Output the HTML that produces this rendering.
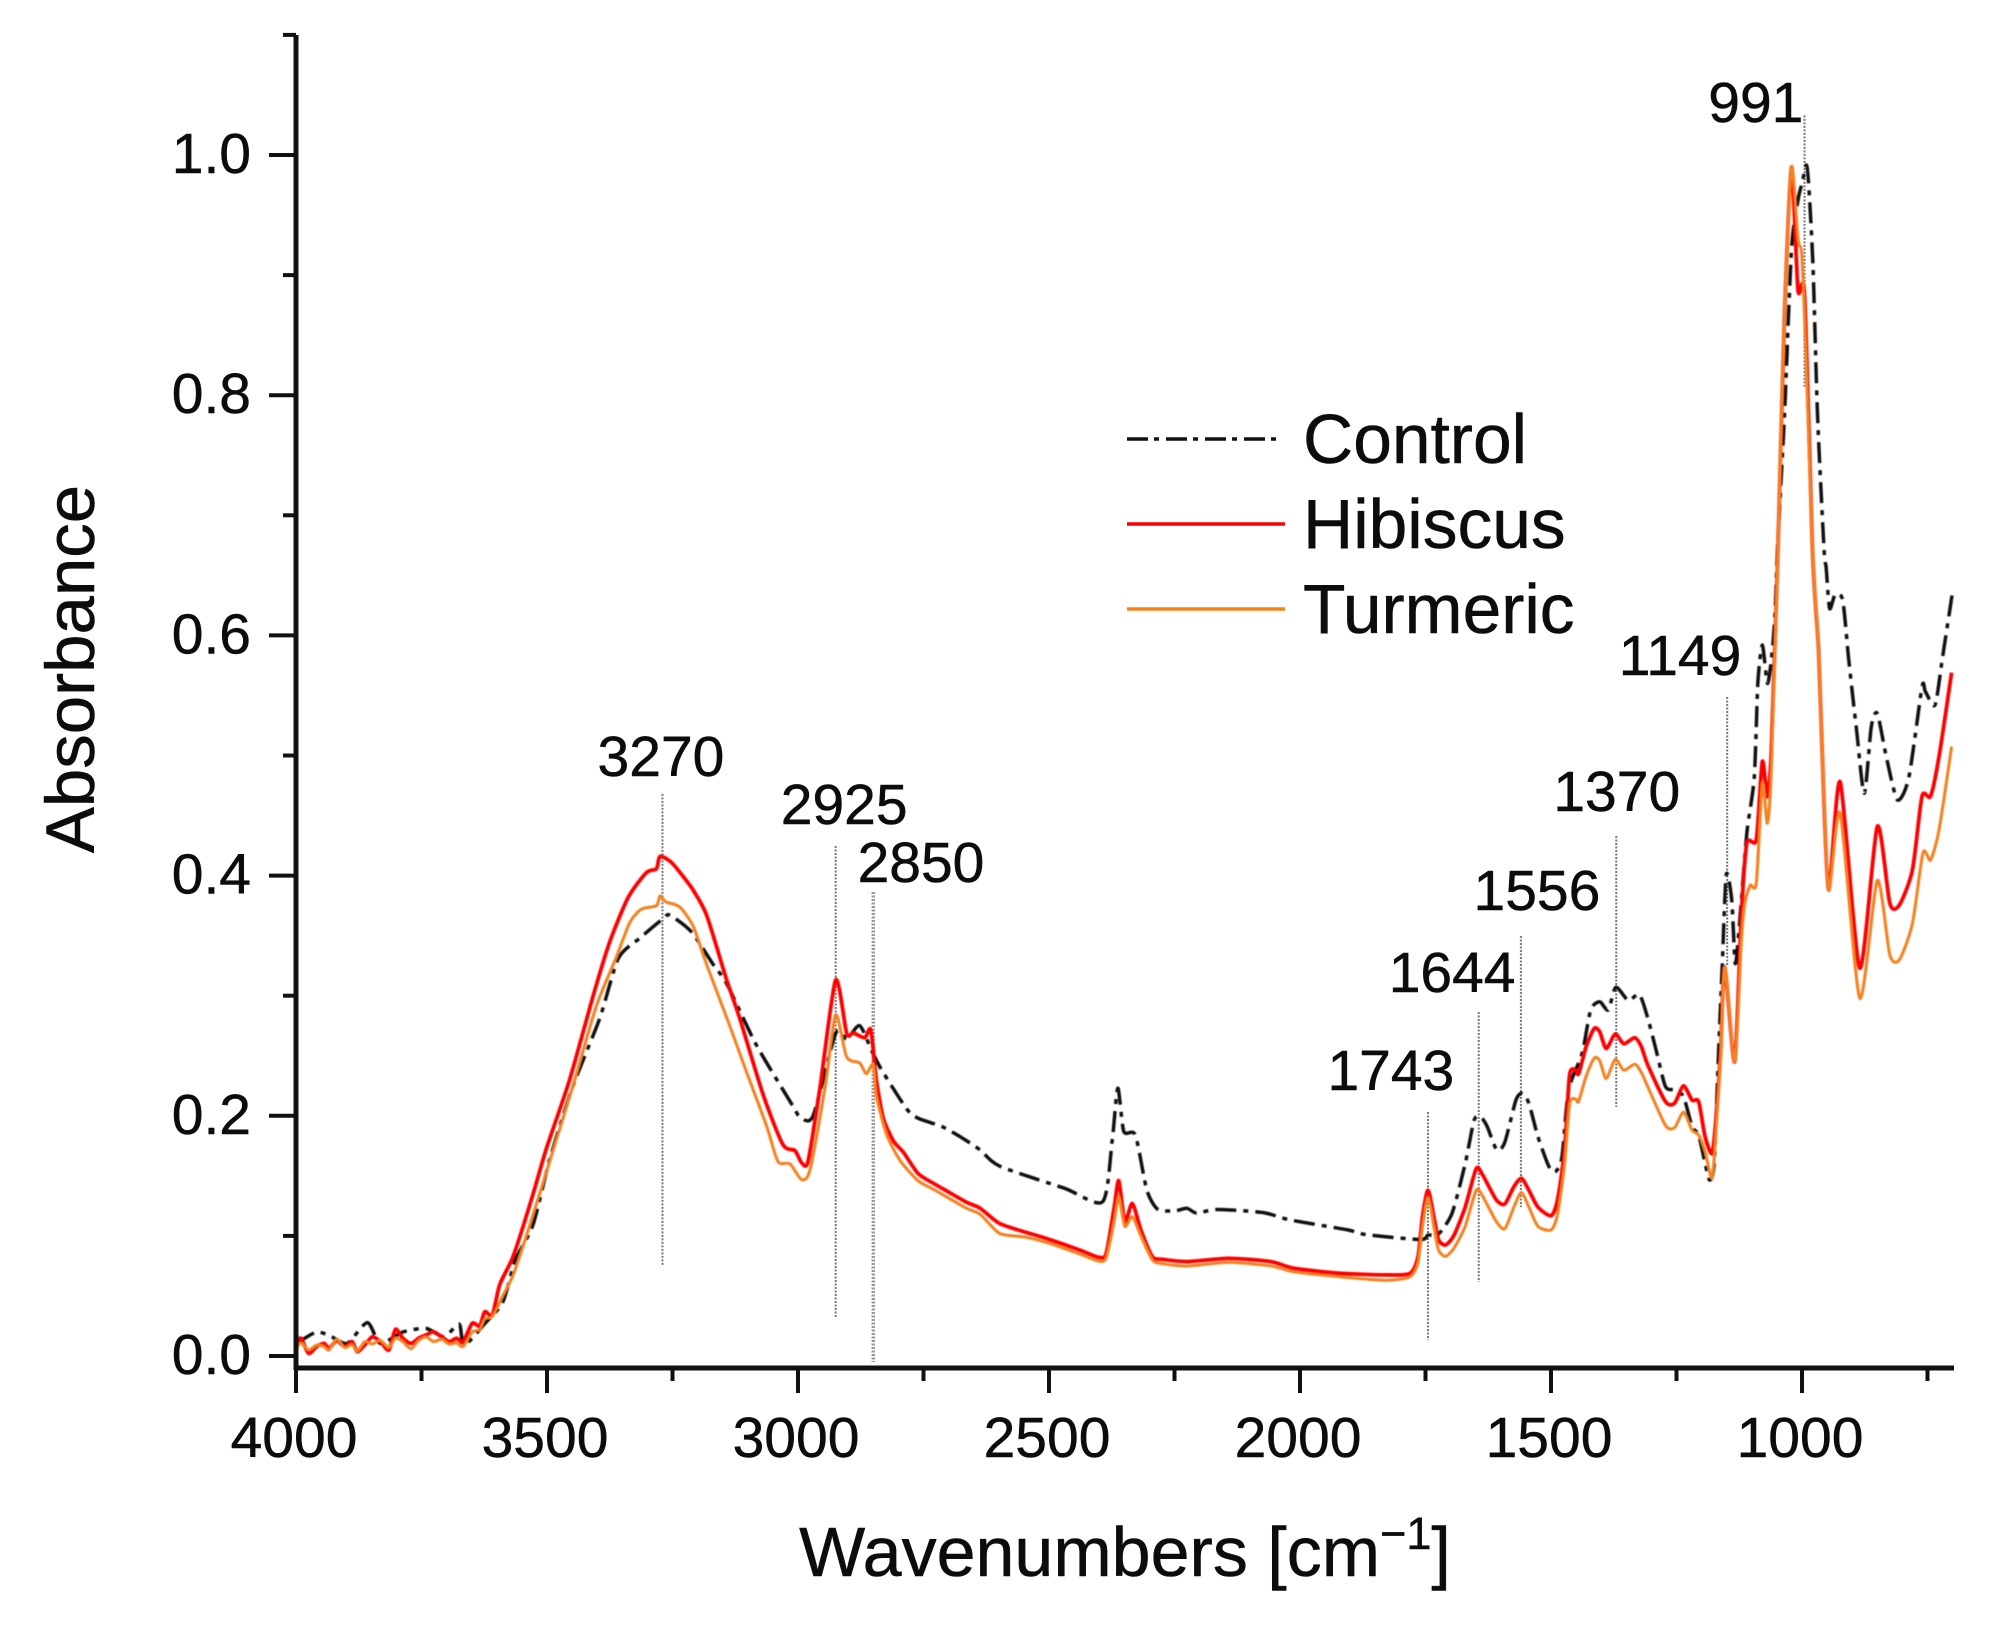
<!DOCTYPE html>
<html lang="en">
<head>
<meta charset="utf-8">
<title>FTIR absorbance spectra</title>
<style>
html,body{margin:0;padding:0;background:#fff;}
svg{display:block;}
text{font-family:"Liberation Sans",Arial,sans-serif;fill:#0c0c0c;stroke:#0c0c0c;stroke-width:0.5px;}
</style>
</head>
<body>
<svg id="chart" xmlns="http://www.w3.org/2000/svg" width="1991" height="1629" viewBox="0 0 1991 1629">
  <rect x="0" y="0" width="1991" height="1629" fill="#fff"/>
  <g id="peak-lines"></g>
  <g id="series" style="filter:blur(0.4px)"></g>
  <g id="axes"></g>
  <g id="peak-labels"></g>
  <text transform="translate(94 669) rotate(-90)" text-anchor="middle" font-size="69">Absorbance</text>
  <text x="1125" y="1576" text-anchor="middle" font-size="70">Wavenumbers [cm<tspan font-size="45" dy="-27">−1</tspan><tspan dy="27">]</tspan></text>
  <g>
    <line x1="1127" y1="439" x2="1283" y2="439" stroke="#111" stroke-width="3.5" stroke-dasharray="21 6 5 7"/>
    <text x="1303" y="463" font-size="69.5">Control</text>
    <line x1="1127" y1="524" x2="1285" y2="524" stroke="#ff0000" stroke-width="3.6"/>
    <text x="1303" y="548" font-size="69.5">Hibiscus</text>
    <line x1="1127" y1="609" x2="1285" y2="609" stroke="#f58220" stroke-width="3.4"/>
    <text x="1303" y="633" font-size="69.5">Turmeric</text>
  </g>
</svg>
<script>
const xMajorTicks = [4000,3500,3000,2500,2000,1500,1000];
const xMinorTicks = [3750,3250,2750,2250,1750,1250,750];
const yMajorTicks = [0,0.2,0.4,0.6,0.8,1.0];
const yMinorTicks = [0.1,0.3,0.5,0.7,0.9,1.1];

const controlWavenumbers = [4000,3959,3929,3898,3858,3832,3787,3741,3705,3675,3665,3624,3588,3563,3528,3495,3449,3395,3358,3315,3269,3255,3212,3169,3142,3083,3010,2996,2970,2925,2903,2877,2853,2833,2784,2761,2713,2671,2637,2598,2469,2393,2374,2363,2351,2328,2305,2283,2248,2225,2206,2165,2073,2020,1905,1867,1760,1745,1724,1697,1671,1653,1640,1627,1608,1592,1570,1557,1544,1526,1504,1491,1478,1465,1438,1421,1403,1386,1371,1346,1324,1307,1289,1272,1254,1236,1219,1206,1193,1184,1175,1166,1159,1151,1140,1133,1125,1110,1095,1088,1079,1069,1061,1054,1048,1035,1021,1008,1000,991,986,978,969,956,952,945,934,919,907,892,876,862,850,832,810,787,761,754,735,720,701];
const controlAbsorbance = [0.010,0.020,0.016,0.0105,0.0278,0.0105,0.020,0.023,0.016,0.0266,0.009,0.027,0.045,0.080,0.109,0.163,0.224,0.281,0.331,0.348,0.364,0.367,0.353,0.326,0.310,0.259,0.208,0.199,0.200,0.2685,0.264,0.275,0.254,0.238,0.206,0.198,0.191,0.181,0.1715,0.158,0.1396,0.1285,0.180,0.223,0.187,0.184,0.138,0.122,0.121,0.123,0.119,0.122,0.1194,0.1133,0.105,0.101,0.097,0.1007,0.1016,0.119,0.160,0.1965,0.199,0.191,0.1715,0.178,0.213,0.2187,0.2104,0.1826,0.1576,0.1535,0.166,0.2214,0.252,0.288,0.295,0.288,0.307,0.296,0.301,0.281,0.252,0.2243,0.2214,0.216,0.191,0.184,0.1604,0.1465,0.1604,0.2548,0.324,0.4005,0.380,0.327,0.357,0.435,0.482,0.560,0.592,0.560,0.580,0.6156,0.680,0.782,0.921,0.9625,0.9764,0.9917,0.971,0.907,0.782,0.671,0.657,0.6225,0.634,0.6295,0.580,0.524,0.4685,0.524,0.535,0.499,0.463,0.482,0.557,0.553,0.542,0.582,0.6337];

const hibiscusWavenumbers = [4000,3990,3975,3959,3944,3934,3919,3903,3888,3878,3863,3848,3832,3815,3802,3787,3771,3756,3741,3726,3710,3695,3680,3667,3649,3634,3624,3609,3594,3567,3528,3501,3455,3408,3375,3338,3302,3282,3275,3255,3232,3209,3182,3142,3116,3069,3030,3006,2993,2980,2956,2925,2903,2890,2867,2855,2844,2830,2810,2790,2761,2731,2706,2664,2637,2599,2546,2500,2439,2401,2386,2370,2361,2349,2334,2317,2294,2275,2225,2142,2058,2012,1921,1829,1781,1765,1756,1745,1732,1724,1710,1693,1671,1649,1636,1609,1592,1574,1559,1544,1526,1500,1487,1473,1463,1451,1445,1430,1414,1403,1390,1372,1355,1333,1320,1307,1272,1254,1236,1219,1206,1193,1179,1171,1162,1154,1134,1121,1110,1091,1079,1069,1061,1048,1035,1021,1008,995,979,967,960,947,924,885,850,825,806,780,761,744,727,702];
const hibiscusAbsorbance = [0.0105,0.0147,0.0022,0.0078,0.0105,0.0064,0.0128,0.0078,0.012,0.0036,0.0092,0.016,0.012,0.005,0.0222,0.0147,0.0105,0.0147,0.0175,0.0203,0.016,0.012,0.0147,0.012,0.0272,0.025,0.0369,0.034,0.0596,0.0835,0.1345,0.173,0.230,0.300,0.345,0.382,0.4025,0.4057,0.416,0.412,0.401,0.388,0.367,0.313,0.281,0.217,0.176,0.171,0.161,0.162,0.224,0.313,0.2685,0.269,0.265,0.2717,0.230,0.198,0.179,0.1696,0.152,0.144,0.138,0.128,0.123,0.1105,0.103,0.0972,0.0883,0.0822,0.0855,0.1244,0.146,0.1119,0.127,0.1049,0.0827,0.0805,0.0786,0.0813,0.0786,0.073,0.0689,0.0675,0.0688,0.0827,0.116,0.138,0.113,0.0966,0.0924,0.1007,0.124,0.156,0.1507,0.130,0.1266,0.141,0.148,0.138,0.124,0.1168,0.130,0.1715,0.234,0.238,0.235,0.2575,0.2728,0.270,0.256,0.268,0.260,0.265,0.2575,0.242,0.2118,0.2104,0.225,0.213,0.2118,0.1826,0.1687,0.1993,0.2548,0.324,0.245,0.366,0.427,0.430,0.495,0.4657,0.5046,0.671,0.865,0.990,0.8876,0.8834,0.671,0.588,0.505,0.388,0.478,0.323,0.441,0.377,0.3756,0.4047,0.466,0.466,0.499,0.569];

const turmericWavenumbers = [4000,3990,3975,3959,3944,3934,3919,3903,3888,3878,3863,3848,3832,3815,3802,3787,3771,3756,3741,3726,3710,3695,3680,3667,3649,3634,3624,3609,3588,3568,3541,3508,3449,3402,3362,3335,3312,3282,3275,3263,3236,3209,3182,3136,3103,3063,3040,3016,2993,2976,2946,2925,2903,2877,2864,2850,2844,2824,2797,2761,2731,2664,2637,2598,2546,2500,2439,2401,2386,2370,2361,2349,2334,2317,2294,2275,2225,2142,2058,2012,1921,1829,1781,1765,1756,1745,1732,1724,1710,1693,1671,1649,1636,1609,1592,1574,1559,1544,1526,1500,1487,1473,1463,1451,1445,1430,1414,1403,1390,1372,1355,1333,1320,1307,1272,1254,1236,1219,1206,1193,1179,1171,1162,1154,1134,1121,1114,1103,1091,1079,1069,1061,1048,1035,1021,1008,1000,991,979,967,960,947,924,885,850,825,806,780,759,744,727,702];
const turmericAbsorbance = [0.006,0.011,0.005,0.009,0.008,0.005,0.014,0.007,0.0095,0.004,0.012,0.010,0.013,0.007,0.015,0.012,0.006,0.013,0.016,0.012,0.014,0.010,0.011,0.008,0.020,0.022,0.031,0.033,0.050,0.067,0.100,0.144,0.224,0.291,0.332,0.361,0.372,0.375,0.383,0.378,0.374,0.358,0.326,0.275,0.237,0.192,0.162,0.160,0.147,0.155,0.224,0.284,0.249,0.244,0.235,0.243,0.217,0.185,0.163,0.146,0.139,0.123,0.118,0.102,0.099,0.094,0.085,0.079,0.082,0.113,0.133,0.108,0.116,0.100,0.080,0.077,0.075,0.078,0.075,0.070,0.066,0.063,0.066,0.078,0.108,0.132,0.105,0.088,0.083,0.090,0.108,0.138,0.133,0.112,0.106,0.124,0.136,0.124,0.108,0.105,0.118,0.160,0.210,0.214,0.212,0.233,0.248,0.246,0.231,0.247,0.238,0.243,0.236,0.224,0.192,0.190,0.203,0.188,0.184,0.170,0.148,0.190,0.250,0.324,0.245,0.345,0.377,0.392,0.394,0.477,0.4436,0.490,0.671,0.865,0.990,0.930,0.915,0.820,0.671,0.588,0.505,0.388,0.452,0.298,0.396,0.334,0.330,0.360,0.419,0.413,0.438,0.5074];

const peakLabels = ["3270","2925","2850","1743","1644","1556","1370","1149","991"];
const peakLabelWavenumbers = [3273,2908,2755,1819,1697,1528,1369,1243,1092];
const peakLabelAbsorbance = [0.483,0.443,0.3947,0.2215,0.303,0.3714,0.4538,0.567,1.0275];
const peakLineWavenumbers = [3270,2925,2850,1745,1644,1560,1370,1149,995];
const peakLineTop = [0.468,0.4246,0.3863,0.2032,0.2864,0.3497,0.433,0.5487,1.033];
const peakLineBottom = [0.0758,0.0325,-0.005,0.0133,0.0616,0.124,0.2073,0.3256,0.807];

const xLeft = 296, xRight = 1954, wnLeft = 4000, pxPerWn = 0.502;
const yZero = 1356, pxPerAbs = 1201, axisY = 1368, axisTop = 35;
function xScale(w){ return xLeft + (wnLeft - w) * pxPerWn; }
function yScale(v){ return yZero - v * pxPerAbs; }
const SVGNS = "http://www.w3.org/2000/svg";
function make(tag, attrs, parent){
  const el = document.createElementNS(SVGNS, tag);
  for (const k in attrs) el.setAttribute(k, attrs[k]);
  parent.appendChild(el);
  return el;
}
function pathFor(ws, vs){
  const n = Math.min(ws.length, vs.length);
  const px = [], py = [];
  for (let i = 0; i < n; i++){ px.push(xScale(ws[i])); py.push(yScale(vs[i])); }
  let d = "M" + px[0].toFixed(1) + " " + py[0].toFixed(1);
  const k = 0.12;
  for (let i = 0; i < n - 1; i++){
    const a = Math.max(i - 1, 0), b = Math.min(i + 2, n - 1);
    const c1x = px[i] + (px[i + 1] - px[a]) * k, c1y = py[i] + (py[i + 1] - py[a]) * k;
    const c2x = px[i + 1] - (px[b] - px[i]) * k, c2y = py[i + 1] - (py[b] - py[i]) * k;
    d += "C" + c1x.toFixed(1) + " " + c1y.toFixed(1) + " " + c2x.toFixed(1) + " " + c2y.toFixed(1) + " " + px[i + 1].toFixed(1) + " " + py[i + 1].toFixed(1);
  }
  return d;
}

const seriesGroup = document.getElementById("series");
const axesGroup = document.getElementById("axes");
const peakLineGroup = document.getElementById("peak-lines");
const peakLabelGroup = document.getElementById("peak-labels");

peakLineWavenumbers.forEach(function(w, i){
  const wide = peakLabels[i] === "2850";
  const ln = make("line", {x1:xScale(w), x2:xScale(w), y1:yScale(peakLineTop[i]), y2:yScale(peakLineBottom[i]), stroke: wide ? "#999" : "#777", "stroke-width": wide ? 3.5 : 2, "stroke-dasharray":"2 1.5"}, peakLineGroup);
  
  
  const t = make("text", {x:xScale(peakLabelWavenumbers[i]), y:yScale(peakLabelAbsorbance[i]), "text-anchor":"middle", "font-size":57}, peakLabelGroup);
  t.textContent = peakLabels[i];
  
  
});

const controlPath = make("path", {d:pathFor(controlWavenumbers, controlAbsorbance), fill:"none", stroke:"#111", "stroke-width":3.5, "stroke-dasharray":"21 7 5 7", "stroke-linejoin":"round"}, seriesGroup);


const hibiscusPath = make("path", {d:pathFor(hibiscusWavenumbers, hibiscusAbsorbance), fill:"none", stroke:"#ff0000", "stroke-width":3.8, "stroke-linejoin":"round"}, seriesGroup);


const turmericPath = make("path", {d:pathFor(turmericWavenumbers, turmericAbsorbance), fill:"none", stroke:"#f58220", "stroke-width":3.1, "stroke-linejoin":"round"}, seriesGroup);



const yAxisLine = make("line", {x1:xLeft, x2:xLeft, y1:axisTop, y2:axisY + 2, stroke:"#111", "stroke-width":5}, axesGroup);


const xAxisLine = make("line", {x1:xLeft - 2, x2:xRight, y1:axisY, y2:axisY, stroke:"#111", "stroke-width":5}, axesGroup);



xMajorTicks.forEach(function(w){
  const x = xScale(w);
  const tk = make("line", {x1:x, x2:x, y1:axisY, y2:1393, stroke:"#111", "stroke-width":4}, axesGroup);
  
  
  const lb = make("text", {x:x - 2, y:1457, "text-anchor":"middle", "font-size":57}, axesGroup);
  lb.textContent = String(w);
  
  
});
xMinorTicks.forEach(function(w){
  const x = xScale(w);
  const tk = make("line", {x1:x, x2:x, y1:axisY, y2:1381, stroke:"#111", "stroke-width":4}, axesGroup);
  
  
});
yMajorTicks.forEach(function(v){
  const y = yScale(v);
  const tk = make("line", {x1:269, x2:xLeft, y1:y, y2:y, stroke:"#111", "stroke-width":4}, axesGroup);
  
  
  const lb = make("text", {x:251, y:y + 18, "text-anchor":"end", "font-size":57}, axesGroup);
  lb.textContent = v.toFixed(1);
  
  
});
yMinorTicks.forEach(function(v){
  const y = yScale(v);
  const tk = make("line", {x1:283, x2:xLeft, y1:y, y2:y, stroke:"#111", "stroke-width":4}, axesGroup);
  
  
});
</script>
</body>
</html>
